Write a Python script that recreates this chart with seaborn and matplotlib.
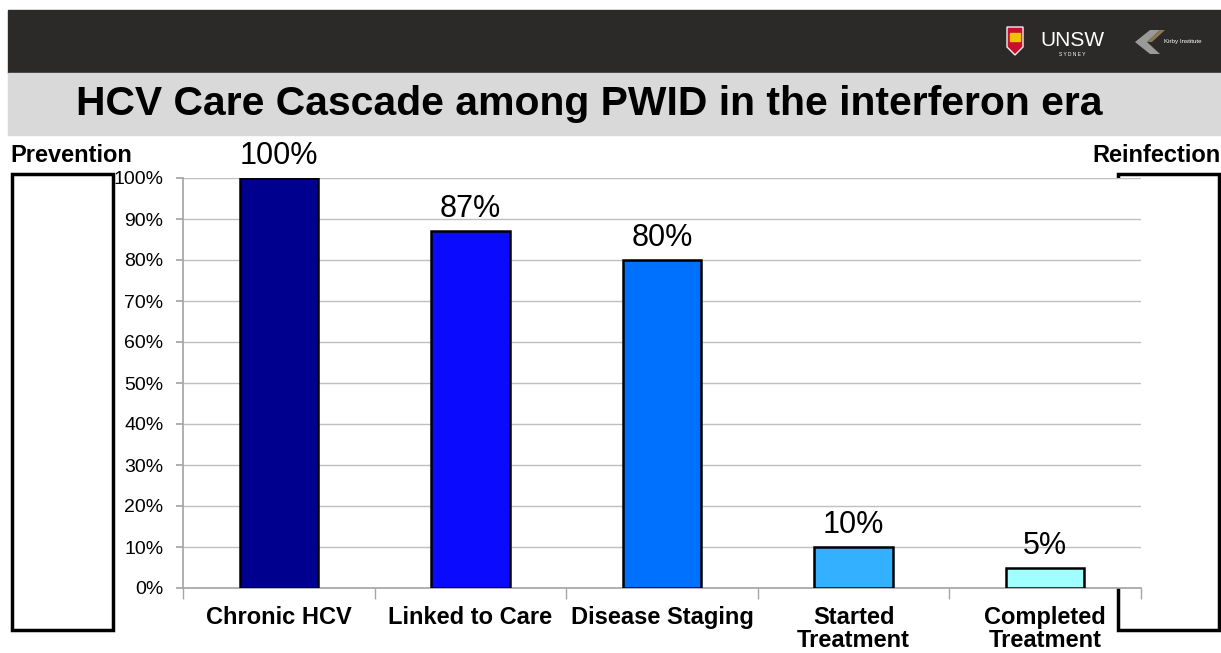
import matplotlib
matplotlib.use("Agg")
import matplotlib.pyplot as plt
from matplotlib.patches import Rectangle, Polygon
import seaborn as sns
import pandas as pd

# Care cascade data
stages = ["Chronic HCV", "Linked to Care", "Disease Staging",
          "Started\nTreatment", "Completed\nTreatment"]
percent = [100, 87, 80, 10, 5]
bar_colors = ["#00008F", "#0A0AFF", "#0070FF", "#33B0FF", "#A0FFFF"]
y_ticks = [0, 10, 20, 30, 40, 50, 60, 70, 80, 90, 100]

title = "HCV Care Cascade among PWID in the interferon era"

sns.set_theme(style="white")
plt.rcParams["font.family"] = ["Liberation Sans", "DejaVu Sans"]
plt.rcParams["text.color"] = "black"
plt.rcParams["xtick.color"] = "black"
plt.rcParams["ytick.color"] = "black"

W, H = 1221, 653
fig = plt.figure(figsize=(W / 100, H / 100), dpi=100)
fig.patch.set_facecolor("white")


def px(x0, y0, x1, y1):
    """Figure-fraction rectangle from pixel corners (top-left origin)."""
    return [x0 / W, 1 - y1 / H, (x1 - x0) / W, (y1 - y0) / H]


# Header bands
bg = fig.add_axes([0, 0, 1, 1])
bg.set_xlim(0, W)
bg.set_ylim(H, 0)
bg.axis("off")
bg.add_patch(Rectangle((8, 10), W - 8, 63, color="#2B2A29", zorder=0))
bg.add_patch(Rectangle((8, 73), W - 8, 62, color="#D9D9D9", zorder=0))
bg.text(589, 104, title, ha="center", va="center", fontsize=29.4,
        fontweight="bold", color="black")

# Logos in the header
bg.add_patch(Polygon([(1007, 27), (1023, 27), (1023, 47), (1015, 55), (1007, 47)],
                     closed=True, facecolor="#C8102E", edgecolor="#F0F0F0", lw=1))
bg.add_patch(Rectangle((1010, 33), 10, 8, color="#F2C200"))
bg.text(1040, 41, "UNSW", ha="left", va="center", fontsize=15, color="white")
bg.text(1072, 54, "S Y D N E Y", ha="center", va="center", fontsize=3.5,
        color="white")
bg.add_patch(Polygon([(1135, 42), (1150, 30), (1160, 30), (1147, 42), (1160, 54), (1150, 54)],
                     closed=True, facecolor="#9A9A9A", edgecolor="none"))
bg.add_patch(Polygon([(1147, 42), (1160, 30), (1165, 30), (1152, 42)],
                     closed=True, facecolor="#8C7A55", edgecolor="none"))
bg.text(1164, 42, "Kirby Institute", ha="left", va="center", fontsize=4.5,
        color="white")

# Side boxes
for x0 in (12, 1118):
    bg.add_patch(Rectangle((x0, 174), 101, 456, fill=False, edgecolor="black",
                           lw=2.5, zorder=3))
bg.text(10, 155, "Prevention", ha="left", va="center", fontsize=17,
        fontweight="bold", color="black")
bg.text(1221, 155, "Reinfection", ha="right", va="center", fontsize=17,
        fontweight="bold", color="black")

# Bar chart
ax = fig.add_axes(px(183, 178, 1141, 588))
df = pd.DataFrame({"stage": stages, "percent": percent})
sns.barplot(data=df, x="stage", y="percent", hue="stage", palette=bar_colors,
            legend=False, width=0.41, edgecolor="black", linewidth=1.8,
            saturation=1, ax=ax, zorder=3)
ax.set_xlim(-0.5, len(stages) - 0.5)
ax.set_ylim(0, 100)
ax.set_yticks(y_ticks)
ax.set_yticklabels([f"{v}%" for v in y_ticks], fontsize=14, color="black")
ax.set_xlabel("")
ax.set_ylabel("")
ax.grid(axis="y", color="#BFBFBF", lw=1, zorder=0)
ax.grid(axis="x", visible=False)
for s in ("top", "right"):
    ax.spines[s].set_visible(False)
ax.spines["left"].set_color("#A6A6A6")
ax.spines["bottom"].set_color("#A6A6A6")
ax.tick_params(axis="y", length=5, color="#A6A6A6", labelcolor="black",
               pad=9, left=True)
ax.tick_params(axis="x", length=0, pad=13, labelcolor="black")
ax.set_xticks(range(len(stages)))
ax.set_xticklabels(stages, fontsize=17, fontweight="bold", linespacing=1.02)
ax.set_xticks([i - 0.5 for i in range(len(stages) + 1)], minor=True)
ax.tick_params(axis="x", which="minor", length=8, color="#A6A6A6", bottom=True)

for i, v in enumerate(percent):
    ax.annotate(f"{v}%", (i, v), xytext=(0, 5), textcoords="offset points",
                ha="center", va="bottom", fontsize=22, color="black",
                clip_on=False)

fig.savefig("out.png", dpi=100)
